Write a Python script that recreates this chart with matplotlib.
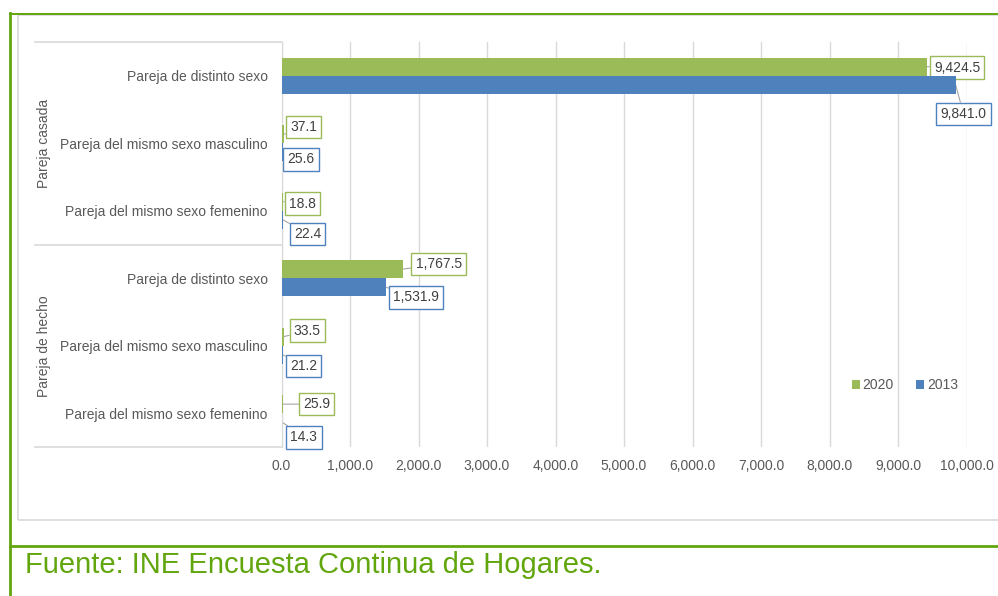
import matplotlib
matplotlib.use("agg")
import matplotlib.pyplot as plt
from matplotlib.lines import Line2D
from matplotlib.patches import Rectangle

plt.rcParams['font.family'] = ['Liberation Sans', 'DejaVu Sans']

categories = ["Pareja de distinto sexo",
              "Pareja del mismo sexo masculino",
              "Pareja del mismo sexo femenino",
              "Pareja de distinto sexo",
              "Pareja del mismo sexo masculino",
              "Pareja del mismo sexo femenino"]
groups = ["Pareja casada", "Pareja de hecho"]
values_2020 = [9424.5, 37.1, 18.8, 1767.5, 33.5, 25.9]
values_2013 = [9841.0, 25.6, 22.4, 1531.9, 21.2, 14.3]
xticks = [0, 1000, 2000, 3000, 4000, 5000, 6000, 7000, 8000, 9000, 10000]

# label offsets (pixels) from bar end to the label text
off_2020 = [(7, -1), (6, 7), (6, -2), (13, 5), (10, 6), (20, 0)]
off_2013 = [(-15, -29), (4, -7), (11, -14), (7, -10), (7, -11), (8, -15)]

GREEN = "#9BBB59"
BLUE = "#4F81BD"
FRAME = "#62A60E"
GRID = "#D9D9D9"
TXT = "#595959"
FS = 10

fig = plt.figure(figsize=(9.98, 5.96), dpi=100)
W, H = 998, 596

def fx(px):
    return px / W

def fy(py):
    return 1 - py / H

# page decoration
fig.patches.append(Rectangle((fx(18), fy(520)), fx(1000) - fx(18), fy(15) - fy(520),
                             transform=fig.transFigure, fill=False, ec=GRID, lw=1.2))
fig.lines.append(Line2D([fx(10), fx(998)], [fy(13.5), fy(13.5)], transform=fig.transFigure,
                        color=FRAME, lw=1.4))
fig.lines.append(Line2D([fx(10), fx(10)], [fy(13), fy(596)], transform=fig.transFigure,
                        color=FRAME, lw=2))
fig.lines.append(Line2D([fx(10), fx(998)], [fy(546), fy(546)], transform=fig.transFigure,
                        color=FRAME, lw=2))
fig.text(fx(25), fy(565), "Fuente: INE Encuesta Continua de Hogares.", color=FRAME,
         fontsize=21, ha="left", va="center")

ax = fig.add_axes([fx(281.5), fy(447), fx(966.5) - fx(281.5), fy(42) - fy(447)])

ypos = list(range(len(categories)))
h = 0.27
y20 = [y - h / 2 for y in ypos]
y13 = [y + h / 2 for y in ypos]
b20 = ax.barh(y20, values_2020, height=h, color=GREEN, zorder=3, label="2020")
b13 = ax.barh(y13, values_2013, height=h, color=BLUE, zorder=3, label="2013")

ax.set_xlim(0, 10000)
ax.set_ylim(len(categories) - 0.5, -0.5)
ax.set_xticks(xticks)
ax.set_xticklabels(["{:,.1f}".format(v) for v in xticks], fontsize=FS, color=TXT)
ax.set_yticks(ypos)
ax.set_yticklabels(categories, fontsize=FS, color=TXT)
ax.tick_params(length=0)
ax.tick_params(axis="y", pad=10)
ax.tick_params(axis="x", pad=9)
ax.grid(axis="x", color=GRID, lw=1, zorder=0)
ax.set_axisbelow(True)
for s in ["top", "right", "bottom"]:
    ax.spines[s].set_visible(False)
ax.spines["left"].set_color(GRID)

# category box lines
tr = ax.get_yaxis_transform()
left = (35 - 281.5) / 685
for yb in [-0.5, 2.5, len(categories) - 0.5]:
    ax.add_line(Line2D([left, 0], [yb, yb], transform=tr, color=GRID, lw=1.2, clip_on=False))
for i, g in enumerate(groups):
    ax.text((44 - 281.5) / 685, i * 3 + 1, g, transform=tr, rotation=90, ha="center",
            va="center", fontsize=FS, color=TXT)

def label(vals, ys, offs, color):
    for v, y, (dx, dy) in zip(vals, ys, offs):
        ax.annotate("{:,.1f}".format(v), xy=(v, y), xytext=(dx, dy),
                    textcoords="offset pixels", ha="left", va="center",
                    fontsize=FS, color="#404040", zorder=2,
                    bbox=dict(boxstyle="square,pad=0.3", fc="white", ec=color, lw=1),
                    arrowprops=dict(arrowstyle="-", color="#A6A6A6", lw=0.8,
                                    shrinkA=0, shrinkB=0))

label(values_2020, y20, off_2020, GREEN)
label(values_2013, y13, off_2013, BLUE)

ax.legend(handles=[b20, b13], loc="center", bbox_to_anchor=(0.91, 0.153), ncol=2,
          frameon=False, fontsize=FS, handlelength=0.6, handleheight=0.6,
          handletextpad=0.2, columnspacing=1.6, labelcolor=TXT)

fig.savefig("out.png", dpi=100)
